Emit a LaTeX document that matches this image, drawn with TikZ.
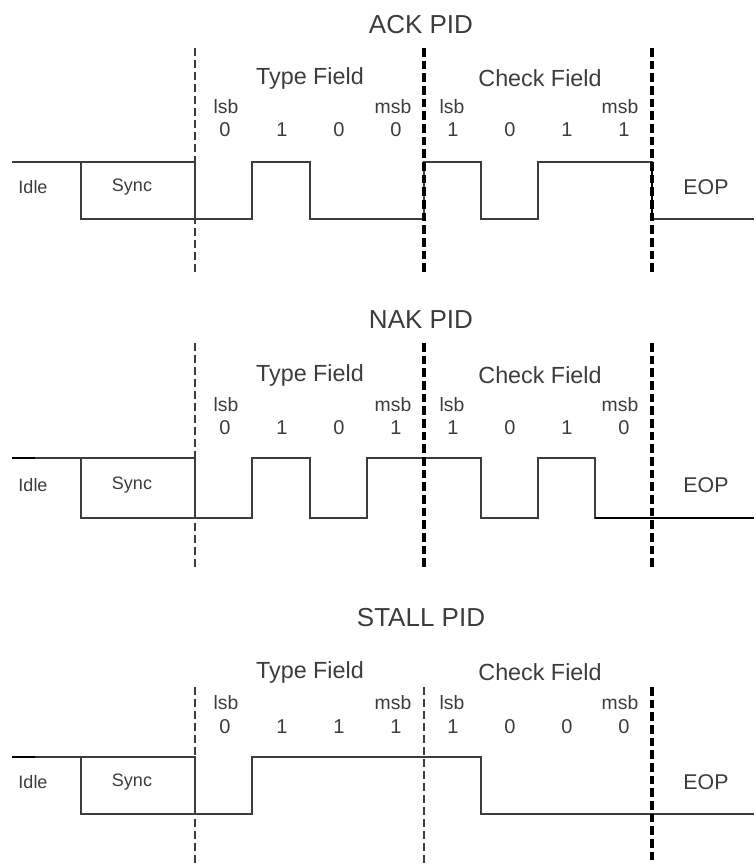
\documentclass[tikz,border=0pt]{standalone}
\usepackage{fontspec}
\setmainfont{Liberation Sans}
\definecolor{ink}{HTML}{3C3C3C}
\begin{document}
\begin{tikzpicture}[x=0.75pt,y=-0.75pt,line join=miter,line cap=butt,
	sig/.style={draw=ink,line width=1.1pt},
	heavy/.style={draw=black,line width=1.9pt},
	thindash/.style={draw=ink,line width=1.3pt,dash pattern=on 6pt off 3pt},
	thickdash/.style={draw=black,line width=2.4pt,dash pattern=on 6.5pt off 3pt},
	ttl/.style={text=ink,font=\fontsize{19.5}{22}\selectfont},
	fld/.style={text=ink,font=\fontsize{17.5}{20}\selectfont},
	tag/.style={text=ink,font=\fontsize{14.5}{16}\selectfont,inner sep=0pt},
	bit/.style={text=ink,font=\fontsize{15}{17}\selectfont,inner sep=0pt},
	note/.style={text=ink,font=\fontsize{13.5}{15}\selectfont}]
	\useasboundingbox (0,0) rectangle (754,868);
	% labels of the three packets
	\foreach \n/\t/\ty/\fy/\ly/\by/\hi/\lo/\bits in {
		ack/ACK PID/25/78/107/130/162/219/{0,1,0,0,1,0,1,1},
		nak/NAK PID/320/375/405/428/458/518/{0,1,0,1,1,0,1,0},
		stall/STALL PID/618/672/703/727/757/814/{0,1,1,1,1,0,0,0}}
	{
		\node[ttl] (\n-title) at (421,\ty) {\t};
		\node[fld] (\n-type) at (310,\fy) {Type Field};
		\node[fld] (\n-check) at (540,\fy) {Check Field};
		\node[tag] (\n-lsb1) at (226,\ly) {lsb};
		\node[tag] (\n-msb1) at (393,\ly) {msb};
		\node[tag] (\n-lsb2) at (452,\ly) {lsb};
		\node[tag] (\n-msb2) at (620,\ly) {msb};
		\foreach \b [count=\i] in \bits
			\node[bit] (\n-b\i) at (168+57*\i,\by) {\b};
		\node[note] (\n-idle) at (33,{(\hi+\lo)/2-3}) {Idle};
		\node[note] (\n-sync) at (132,{(\hi+\lo)/2-3}) {Sync};
		\node[fld,font=\fontsize{16}{18}\selectfont] (\n-eop) at (706,{(\hi+\lo)/2-3}) {EOP};
		\draw[sig] (81,\hi) -- (195,\hi) -- (195,\lo);
	}
	% waveforms
	\draw[sig] (12,162) -- (81,162) -- (81,219) -- (252,219) -- (252,162) -- (310,162)
		-- (310,219) -- (424,219) -- (424,162) -- (481,162) -- (481,219) -- (538,219)
		-- (538,162) -- (652,162) -- (652,219) -- (754,219);
	\draw[heavy] (652,162) -- (652,219);
	\draw[sig] (12,458) -- (81,458) -- (81,518) -- (252,518) -- (252,458) -- (310,458)
		-- (310,518) -- (367,518) -- (367,458) -- (481,458) -- (481,518) -- (538,518)
		-- (538,458) -- (595,458) -- (595,518) -- (754,518);
	\draw[heavy] (595,518) -- (754,518);
	\draw[sig] (12,757) -- (81,757) -- (81,814) -- (252,814) -- (252,757) -- (481,757)
		-- (481,814) -- (754,814);
	\draw[heavy] (12,458) -- (35,458) (12,757) -- (35,757);
	% field borders
	\draw[thindash] (195,48) -- (195,272) (195,343) -- (195,567)
		(195,687) -- (195,864) (424,687) -- (424,864);
	\draw[thickdash] (424,48) -- (424,272) (652,48) -- (652,272)
		(424,343) -- (424,567) (652,343) -- (652,567) (652,687) -- (652,864);
\end{tikzpicture}
\end{document}
